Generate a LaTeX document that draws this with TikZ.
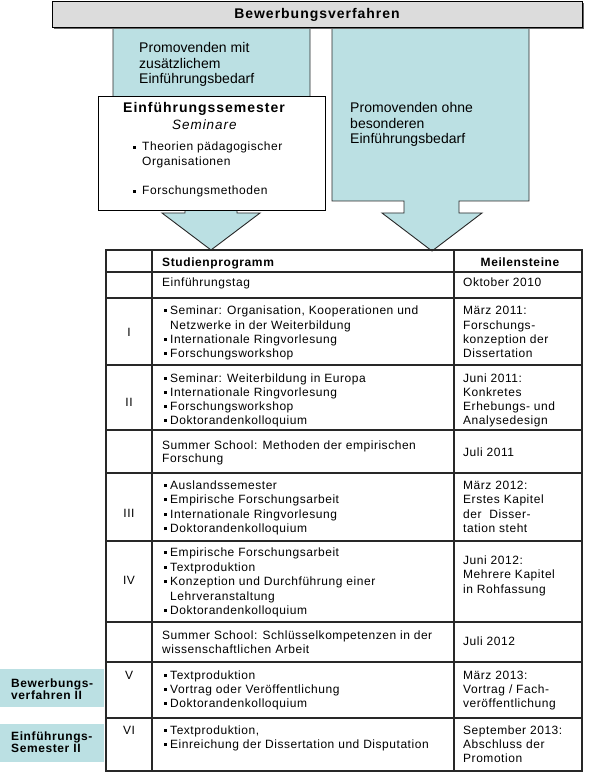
\documentclass[tikz,border=0pt]{standalone}
\usepackage{fontspec}
\setmainfont{Liberation Sans}
\newfontfamily\ftab{Liberation Sans}[LetterSpace=4.5]
\newfontfamily\fbig{Liberation Sans}[LetterSpace=0.3]
\newfontfamily\fttl{Liberation Sans}[LetterSpace=7]
\newfontfamily\fhdr{Liberation Sans}[LetterSpace=5]
\definecolor{tealbox}{RGB}{187,224,227}
\definecolor{barfill}{RGB}{220,220,220}
\definecolor{edge}{RGB}{40,40,40}
\newcommand\blt{\rule[2.3pt]{2.8pt}{2.8pt}}
\newcommand\bl{\blt\hspace{3.2pt}}
\newcommand\wb{\blt\hspace{6.2pt}}
\tikzset{
  txt/.style={inner sep=0pt, anchor=base west, font=\ftab\fontsize{12}{14}\selectfont},
  rom/.style={inner sep=0pt, anchor=base, font=\ftab\fontsize{12}{14}\selectfont},
  bigtxt/.style={inner sep=0pt, anchor=base west, font=\fbig\fontsize{14}{16}\selectfont},
  ttl/.style={inner sep=0pt, anchor=base west, font=\fttl\bfseries\fontsize{14}{16}\selectfont},
  hdr/.style={inner sep=0pt, anchor=base west, font=\fhdr\bfseries\fontsize{12}{14}\selectfont},
  itl/.style={inner sep=0pt, anchor=base west, font=\fttl\itshape\fontsize{13.5}{16}\selectfont},
  blockarrow/.style={fill=tealbox, draw=edge, line width=0.9pt, line join=miter},
  whitebox/.style={fill=white, draw=black, line width=1pt, inner sep=0pt, anchor=north west},
  barbox/.style={fill=barfill, draw=black, line width=1.4pt, inner sep=0pt, anchor=north west},
  lblbox/.style={fill=tealbox, draw=none, inner sep=0pt, anchor=north west},
  tabout/.style={draw=edge, line width=1.6pt},
  tabin/.style={draw=edge, line width=1.2pt},
}
\begin{document}
\begin{tikzpicture}[x=1pt,y=-1pt]
\useasboundingbox (0,0) rectangle (593,775);

% block arrows
\draw[blockarrow] (113,27) -- (310,27) -- (310,201) -- (237,201) -- (237,213) -- (260,213)
  -- (211,250) -- (162,213) -- (185,213) -- (185,201) -- (113,201) -- cycle;
\draw[blockarrow] (332,27) -- (529,27) -- (529,201) -- (459,201) -- (459,213) -- (482,213)
  -- (432,251) -- (382,213) -- (404,213) -- (404,201) -- (332,201) -- cycle;

% top bar with shadow
\fill[black!60] (54,3) rectangle (584,29);
\node[barbox, minimum width=530pt, minimum height=26pt] (bar) at (52,1) {};
\node[ttl, anchor=base] (bartext) at (317,19) {Bewerbungsverfahren};

% left teal text
\node[bigtxt] (l1) at (139,53) {Promovenden mit};
\node[bigtxt] (l2) at (139,68.5) {zusätzlichem};
\node[bigtxt] (l3) at (139,84) {Einführungsbedarf};

% right teal text
\node[bigtxt] (rt1) at (350,113) {Promovenden ohne};
\node[bigtxt] (rt2) at (350,128.5) {besonderen};
\node[bigtxt] (rt3) at (350,144) {Einführungsbedarf};

% white box
\node[whitebox, minimum width=227pt, minimum height=114pt] (wbox) at (98,96) {};
\node[ttl] (w1) at (123,113) {Einführungssemester};
\node[itl] (w2) at (172,130) {Seminare};
\node[txt] (w3) at (133,151) {\wb Theorien pädagogischer};
\node[txt] (w4) at (142,166) {Organisationen};
\node[txt] (w5) at (133,195) {\wb Forschungsmethoden};

% table grid
\draw[tabin] (152,250) -- (152,771);
\draw[tabin] (454,250) -- (454,771);
\foreach \yy in {272,298,365,430,473,541,622,662,718}
  \draw[tabin] (106,\yy) -- (582,\yy);
\draw[tabout] (106,250) rectangle (582,771);

% header
\node[hdr] (h1) at (162,266) {Studienprogramm};
\node[hdr, anchor=base] (h2) at (520,266) {Meilensteine};

% row 0
\node[txt] (a1) at (162,286) {Einführungstag};
\node[txt] (am) at (463,286) {Oktober 2010};

% row I
\node[rom] (bn) at (129,336) {I};
\node[txt] (b1) at (164,314.5) {\bl Seminar: Organisation, Kooperationen und};
\node[txt] (b2) at (170,329) {Netzwerke in der Weiterbildung};
\node[txt] (b3) at (164,343) {\bl Internationale Ringvorlesung};
\node[txt] (b4) at (164,357.5) {\bl Forschungsworkshop};
\node[txt] (bm1) at (463,314.5) {März 2011:};
\node[txt] (bm2) at (463,329) {Forschungs-};
\node[txt] (bm3) at (463,343) {konzeption der};
\node[txt] (bm4) at (463,357.5) {Dissertation};

% row II
\node[rom] (cn) at (129,406) {II};
\node[txt] (c1) at (164,382) {\bl Seminar: Weiterbildung in Europa};
\node[txt] (c2) at (164,396) {\bl Internationale Ringvorlesung};
\node[txt] (c3) at (164,410) {\bl Forschungsworkshop};
\node[txt] (c4) at (164,424) {\bl Doktorandenkolloquium};
\node[txt] (cm1) at (463,382) {Juni 2011:};
\node[txt] (cm2) at (463,396) {Konkretes};
\node[txt] (cm3) at (463,410) {Erhebungs- und};
\node[txt] (cm4) at (463,424) {Analysedesign};

% summer school 1
\node[txt] (d1) at (162,449) {Summer School: Methoden der empirischen};
\node[txt] (d2) at (162,462) {Forschung};
\node[txt] (dm) at (463,456) {Juli 2011};

% row III
\node[rom] (en) at (129,517) {III};
\node[txt] (e1) at (164,489) {\bl Auslandssemester};
\node[txt] (e2) at (164,503.5) {\bl Empirische Forschungsarbeit};
\node[txt] (e3) at (164,518) {\bl Internationale Ringvorlesung};
\node[txt] (e4) at (164,532.5) {\bl Doktorandenkolloquium};
\node[txt] (em1) at (463,489) {März 2012:};
\node[txt] (em2) at (463,503.5) {Erstes Kapitel};
\node[txt] (em3) at (463,518) {der\ \ Disser-};
\node[txt] (em4) at (463,532.5) {tation steht};

% row IV
\node[rom] (fn) at (129,584) {IV};
\node[txt] (f1) at (164,556) {\bl Empirische Forschungsarbeit};
\node[txt] (f2) at (164,571) {\bl Textproduktion};
\node[txt] (f3) at (164,585.5) {\bl Konzeption und Durchführung einer};
\node[txt] (f4) at (170,600) {Lehrveranstaltung};
\node[txt] (f5) at (164,614.5) {\bl Doktorandenkolloquium};
\node[txt] (fm1) at (463,564) {Juni 2012:};
\node[txt] (fm2) at (463,578) {Mehrere Kapitel};
\node[txt] (fm3) at (463,593) {in Rohfassung};

% summer school 2
\node[txt] (g1) at (162,639) {Summer School: Schlüsselkompetenzen in der};
\node[txt] (g2) at (162,653) {wissenschaftlichen Arbeit};
\node[txt] (gm) at (463,645) {Juli 2012};

% row V
\node[rom] (hn) at (129,679) {V};
\node[txt] (h5a) at (164,679) {\bl Textproduktion};
\node[txt] (h5b) at (164,693) {\bl Vortrag oder Veröffentlichung};
\node[txt] (h5c) at (164,707) {\bl Doktorandenkolloquium};
\node[txt] (hm1) at (463,679) {März 2013:};
\node[txt] (hm2) at (463,693) {Vortrag / Fach-};
\node[txt] (hm3) at (463,707) {veröffentlichung};

% row VI
\node[rom] (kn) at (129,734) {VI};
\node[txt] (k1) at (164,734) {\bl Textproduktion,};
\node[txt] (k2) at (164,748) {\bl Einreichung der Dissertation und Disputation};
\node[txt] (km1) at (463,734) {September 2013:};
\node[txt] (km2) at (463,748) {Abschluss der};
\node[txt] (km3) at (463,762) {Promotion};

% left labels
\node[lblbox, minimum width=104pt, minimum height=38pt] (lb1) at (0,669) {};
\node[hdr] (lb1a) at (11,687) {Bewerbungs-};
\node[hdr] (lb1b) at (11,699.5) {verfahren II};
\node[lblbox, minimum width=104pt, minimum height=38pt] (lb2) at (0,724) {};
\node[hdr] (lb2a) at (11,740) {Einführungs-};
\node[hdr] (lb2b) at (11,752.5) {Semester II};
\end{tikzpicture}
\end{document}
